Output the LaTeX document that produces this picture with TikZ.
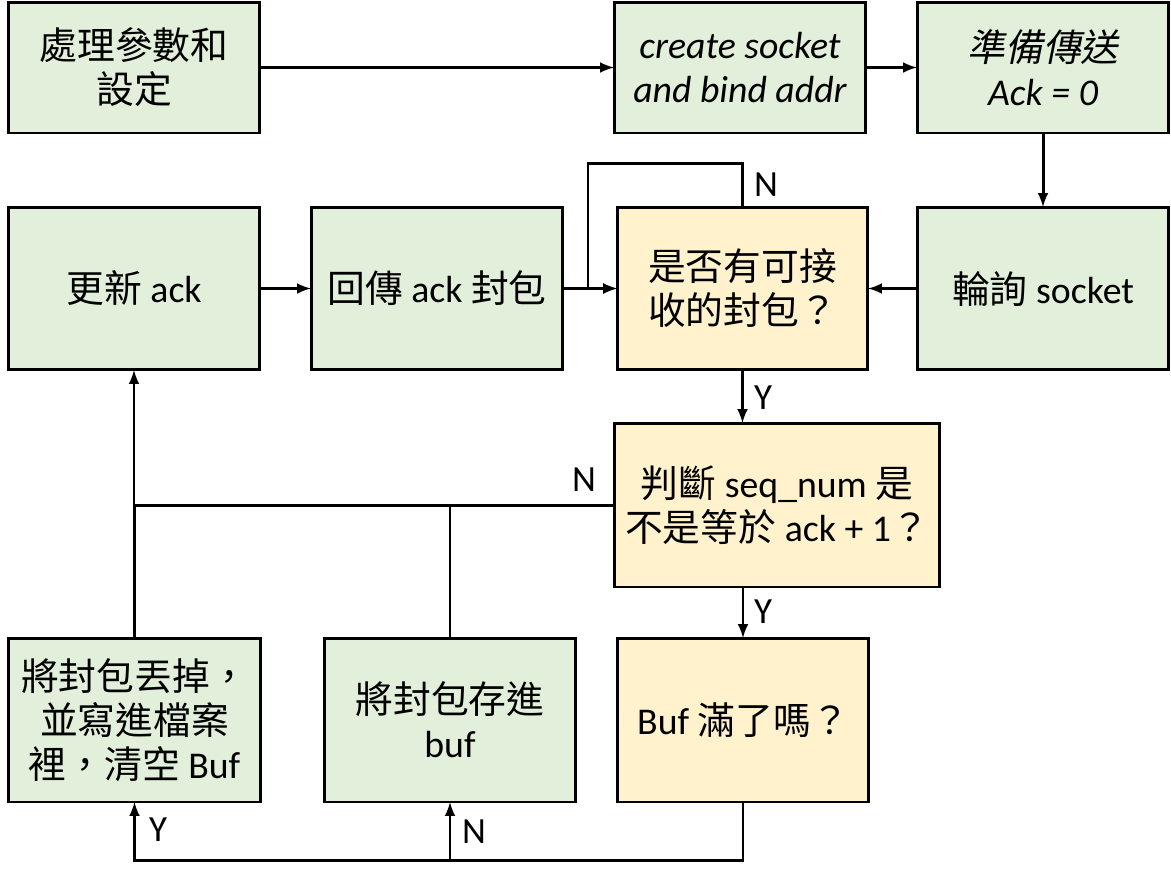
\documentclass[tikz,border=0pt]{standalone}
\usepackage{fontspec}
\setmainfont{Carlito}
\newfontfamily\cjk{Noto Sans CJK TC}
\newfontfamily\cjkit[FakeSlant=0.2]{Noto Sans CJK TC}
\definecolor{boxgreen}{HTML}{E2EFDA}
\definecolor{boxyellow}{HTML}{FFF2CC}
\begin{document}
\begin{tikzpicture}[x=0.02cm, y=-0.02cm]
\tikzset{ >=latex, inner sep=0pt, outer sep=0pt,
  gbox/.style={draw, line width=1.7pt, fill=boxgreen, align=center,
    minimum width=5.04cm, minimum height=2.62cm,
    font=\fontsize{21.5}{25}\selectfont},
  ybox/.style={gbox, fill=boxyellow},
  flow/.style={line width=1.7pt},
  lbl/.style={font=\fontsize{21}{25}\selectfont},
}
\useasboundingbox (0,0) rectangle (1171,877);

\node [gbox] (P) at (134,67.5) {{\cjk 處理參數和}\\{\cjk 設定}};
\node [gbox] (S) at (740,67.5) {\itshape create socket\\\itshape and bind addr};
\node [gbox] (A) at (1043,67.5) {{\cjkit 準備傳送}\\\itshape Ack = 0};

\node [gbox, minimum height=3.26cm] (U) at (134,288.5) {{\cjk 更新} ack};
\node [gbox, minimum height=3.26cm] (R) at (437,288.5) {{\cjk 回傳} ack {\cjk 封包}};
\node [ybox, minimum height=3.26cm, minimum width=5.02cm] (Q) at (742.5,288.5) {{\cjk 是否有可接}\\{\cjk 收的封包？}};
\node [gbox, minimum height=3.26cm] (L) at (1043,288.5) {{\cjk 輪詢} socket};

\node [ybox, minimum height=3.28cm, minimum width=6.52cm] (J) at (777,505) {{\cjk 判斷} seq\_num {\cjk 是}\\{\cjk 不是等於} ack + 1{\cjk ？}};

\node [gbox, minimum height=3.28cm, minimum width=5.06cm] (D) at (134.5,720) {{\cjk 將封包丟掉，}\\{\cjk 並寫進檔案}\\{\cjk 裡，清空} Buf};
\node [gbox, minimum height=3.28cm] (W) at (450,720) {{\cjk 將封包存進}\\buf};
\node [ybox, minimum height=3.28cm] (K) at (743,720) {Buf {\cjk 滿了嗎？}};

\coordinate (QL) at (588,163);
\coordinate (KB) at (743,860);

\draw [->, flow] (P) -- (S);
\draw [->, flow] (S) -- (A);
\draw [->, flow] (A) -- (L);
\draw [->, flow] (L) -- (Q);
\draw [->, flow] (R) -- (Q);
\draw [->, flow] (U) -- (R);

\draw [->, flow] (Q.north) |- (QL) |- (Q.west);
\draw [->, flow] (Q.south) -- (Q.south |- J.north);
\draw [->, flow] (J.west) -| (U.south);
\draw [flow] (W.north) -- (W.north |- J.west);
\draw [flow] (D.north) -- (D.north |- J.west);
\draw [->, flow] (K.north |- J.south) -- (K.north);
\draw [->, flow] (K.south) -- (KB) -| (D.south);
\draw [->, flow] (W.south |- KB) -- (W.south);

\node [lbl] at (766,185) {N};
\node [lbl] at (763,398) {Y};
\node [lbl] at (584,480) {N};
\node [lbl] at (763,612) {Y};
\node [lbl] at (158,830) {Y};
\node [lbl] at (474,832) {N};

\end{tikzpicture}
\end{document}
